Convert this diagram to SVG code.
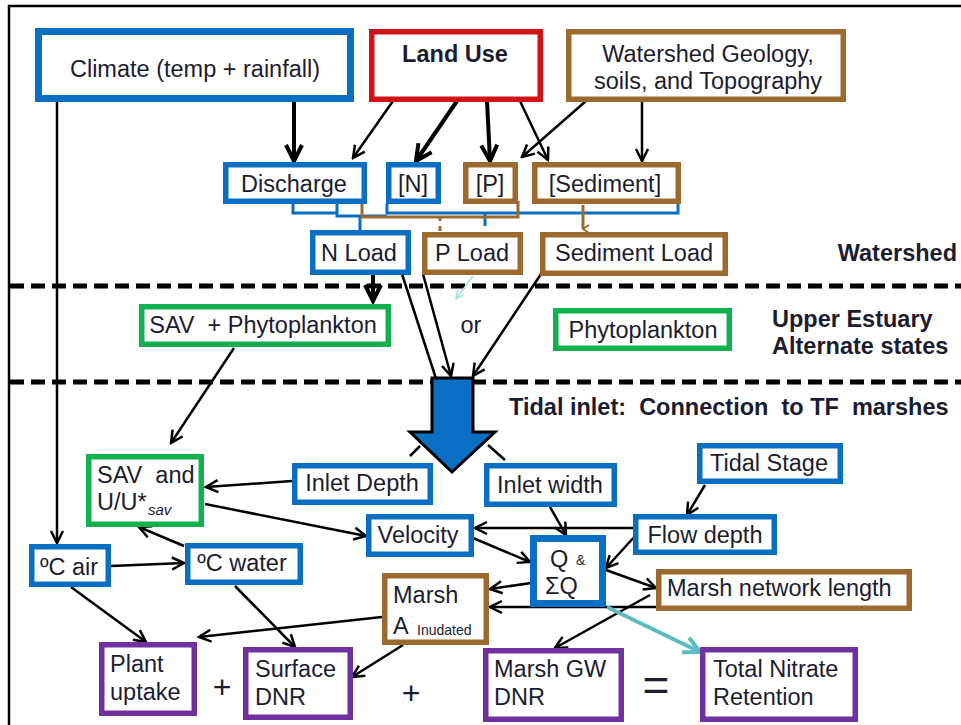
<svg xmlns="http://www.w3.org/2000/svg" width="961" height="725" viewBox="0 0 961 725">
<style>
text{font-family:"Liberation Sans",Arial,sans-serif;font-size:23.5px;fill:#1c1c30}
.b{font-weight:bold}
.m{text-anchor:middle}
.pre{white-space:pre}
.bx{fill:#fff;stroke-width:5.5}
.blue{stroke:#0A6EC2}
.red{stroke:#D01317}
.brn{stroke:#9C6A2E}
.grn{stroke:#12B04E}
.pur{stroke:#7030A0}
.ln{fill:none;stroke:#000;stroke-width:2.5;marker-end:url(#a)}
.tk{fill:none;stroke:#000;stroke-width:4;marker-end:url(#at)}
.dash{stroke:#000;stroke-width:5;stroke-dasharray:14 7}
</style>
<defs>
<marker id="a" viewBox="0 0 16 16" markerWidth="16" markerHeight="16" refX="14" refY="8" orient="auto" markerUnits="userSpaceOnUse"><path d="M2,2 L14,8 L2,14" fill="none" stroke="#000" stroke-width="2.5"/></marker>
<marker id="at" viewBox="0 0 22 22" markerWidth="22" markerHeight="22" refX="19" refY="11" orient="auto" markerUnits="userSpaceOnUse"><path d="M3,3 L19,11 L3,19" fill="none" stroke="#000" stroke-width="4"/></marker>
<marker id="ateal" viewBox="0 0 22 22" markerWidth="22" markerHeight="22" refX="19" refY="11" orient="auto" markerUnits="userSpaceOnUse"><path d="M3,3 L19,11 L3,19" fill="none" stroke="#5BBCC0" stroke-width="4"/></marker>
<marker id="afaint" viewBox="0 0 10 10" markerWidth="10" markerHeight="10" refX="9" refY="5" orient="auto" markerUnits="userSpaceOnUse"><path d="M1,1 L9,5 L1,9" fill="none" stroke="#A9DFE3" stroke-width="1.5"/></marker>
<marker id="abr" viewBox="0 0 10 10" markerWidth="10" markerHeight="10" refX="5" refY="9" orient="auto" markerUnits="userSpaceOnUse"><path d="M1,3 L5,9 L9,3" fill="none" stroke="#9C6A2E" stroke-width="2"/></marker>
</defs>
<rect width="961" height="725" fill="#fff"/>
<rect x="9" y="6" width="1000" height="800" fill="none" stroke="#000" stroke-width="2.5"/>

<g id="separators">
<line class="dash" x1="10" y1="286" x2="961" y2="286"/>
<line class="dash" x1="10" y1="382" x2="961" y2="382"/>
</g>

<g id="connectors">
<path class="tk" d="M294,102 L294,161"/>
<path class="tk" d="M457,101 L416,161"/>
<path class="tk" d="M487,101 L490,161"/>
<path class="tk" d="M373,275 L373,301"/>
<path class="ln" d="M393,101 L353,158"/>
<path class="ln" d="M520,101 L548,160"/>
<path class="ln" d="M586,101 L522,157"/>
<path class="ln" d="M642,101 L642,161"/>
<path d="M293,203 V213 H337 M337,203 V216 H387 M360,216 V230" fill="none" stroke="#0A6EC2" stroke-width="3"/>
<path d="M387,203 V213 H678 V203 M485,213 V226" fill="none" stroke="#0A6EC2" stroke-width="3"/>
<path d="M362,201 V217 H518 V201 M440,217 V221 M440,226 V231" fill="none" stroke="#9C6A2E" stroke-width="3"/>
<path d="M583,205 V229" fill="none" stroke="#9C6A2E" stroke-width="3" marker-end="url(#abr)"/>
<path d="M473,276 L456,299" fill="none" stroke="#A9DFE3" stroke-width="1.5" marker-end="url(#afaint)"/>
<path class="ln" d="M402,274 L441,394"/>
<path class="ln" d="M423,274 L451,376"/>
<path class="ln" d="M541,274 L473,376"/>
<path class="ln" d="M234,348 L171,443"/>
<path class="ln" d="M57,102 L57,543"/>
<path class="ln" d="M292,481 L206,487"/>
<path class="ln" d="M205,504 L366,536"/>
<path class="ln" d="M184,546 L139,527"/>
<path class="ln" d="M111,566 L184,563"/>
<path class="ln" d="M71,587 L146,642"/>
<path class="ln" d="M235,586 L295,647"/>
<path class="ln" d="M382,617 L199,637"/>
<path class="ln" d="M403,645 L352,677"/>
<path class="ln" d="M633,528 L475,528"/>
<path class="ln" d="M550,507 L566,535"/>
<path class="ln" d="M473,538 L530,562"/>
<path class="ln" d="M636,535 L606,568"/>
<path class="ln" d="M531,583 L490,589"/>
<path class="ln" d="M656,607 L490,607"/>
<path class="ln" d="M606,570 L656,588"/>
<path class="ln" d="M650,595 L555,648"/>
<path class="ln" d="M705,485 L687,515"/>
<path d="M420,446 L410,456 M488,445 L505,460" fill="none" stroke="#000" stroke-width="2.5"/>
<path d="M607,607 L700,652" fill="none" stroke="#5BBCC0" stroke-width="4" marker-end="url(#ateal)"/>
</g>

<g id="inlet-arrow">
<polygon points="432,378 473,378 473,432 495,432 452,472 410,432 432,432" fill="#0A6EC2" stroke="#000" stroke-width="3" stroke-linejoin="miter"/>
</g>

<g id="climate"><rect class="bx blue" x="38.5" y="31.5" width="312" height="67" style="stroke-width:7"/><text class="m" x="195" y="77">Climate (temp + rainfall)</text></g>
<g id="land-use"><rect class="bx red" x="371.75" y="31.75" width="168.5" height="67.5"/><text class="m b" x="455" y="62">Land Use</text></g>
<g id="geology"><rect class="bx brn" x="568.75" y="31.75" width="274.5" height="67.5"/><text class="m" x="708" y="62">Watershed Geology,</text><text class="m" x="708" y="89">soils, and Topography</text></g>

<g id="discharge"><rect class="bx blue" x="225.75" y="164.75" width="138.5" height="36.5"/><text class="m" x="294" y="192">Discharge</text></g>
<g id="n-conc"><rect class="bx blue" x="388.75" y="164.75" width="49.5" height="36.5"/><text class="m" x="413" y="192">[N]</text></g>
<g id="p-conc"><rect class="bx brn" x="465.75" y="164.75" width="49.5" height="36.5"/><text class="m" x="490" y="192">[P]</text></g>
<g id="sed-conc"><rect class="bx brn" x="534.75" y="164.75" width="143.5" height="36.5"/><text class="m" x="605" y="192">[Sediment]</text></g>

<g id="n-load"><rect class="bx blue" x="312.75" y="232.75" width="95.5" height="39.5"/><text class="m" x="359" y="261">N Load</text></g>
<g id="p-load"><rect class="bx brn" x="424.75" y="234.75" width="95.5" height="37.5"/><text class="m" x="472" y="261">P Load</text></g>
<g id="sed-load"><rect class="bx brn" x="542.75" y="234.75" width="182.5" height="38.5"/><text class="m" x="634" y="261">Sediment Load</text></g>
<g id="lbl-watershed"><text class="b" x="957" y="261" text-anchor="end">Watershed</text></g>

<g id="sav-phyto"><rect class="bx grn" x="141.75" y="306.75" width="246.5" height="37.5"/><text class="m pre" x="263" y="333" xml:space="preserve">SAV  + Phytoplankton</text></g>
<g id="or"><text class="m" x="471" y="333">or</text></g>
<g id="phyto"><rect class="bx grn" x="555.75" y="310.75" width="173.5" height="37.5"/><text class="m" x="643" y="338">Phytoplankton</text></g>
<g id="lbl-upper"><text class="b" x="772" y="327">Upper Estuary</text><text class="b" x="772" y="354">Alternate states</text></g>

<g id="lbl-tidal"><text class="b pre" x="509" y="415" xml:space="preserve">Tidal inlet:  Connection  to TF  marshes</text></g>

<g id="sav-u"><rect class="bx grn" x="88.75" y="456.75" width="112.5" height="67.5"/><text class="pre" x="97" y="483" xml:space="preserve">SAV  and</text><text x="97" y="510">U/U*</text><text x="148" y="515" style="font-size:15px;font-style:italic">sav</text></g>
<g id="inlet-depth"><rect class="bx blue" x="294.75" y="465.75" width="135.5" height="36.5"/><text class="m" x="362" y="491">Inlet Depth</text></g>
<g id="inlet-width"><rect class="bx blue" x="486.75" y="465.75" width="127.5" height="38.5"/><text class="m" x="550" y="493">Inlet width</text></g>
<g id="tidal-stage"><rect class="bx blue" x="699.75" y="445.75" width="140.5" height="35.5"/><text class="m" x="769" y="471">Tidal Stage</text></g>
<g id="velocity"><rect class="bx blue" x="368.75" y="516.75" width="102.5" height="37.5"/><text class="m" x="418" y="543">Velocity</text></g>
<g id="flow-depth"><rect class="bx blue" x="635.75" y="516.75" width="138.5" height="35.5"/><text class="m" x="705" y="543">Flow depth</text></g>
<g id="q"><rect class="bx blue" x="533.5" y="538.5" width="69" height="65" style="stroke-width:7"/><text x="550" y="567">Q</text><text x="576" y="565" style="font-size:14px">&amp;</text><text x="545" y="594">ΣQ</text></g>
<g id="marsh-a"><rect class="bx brn" x="384.75" y="575.75" width="101.5" height="66.5"/><text x="393" y="603">Marsh</text><text x="393" y="634">A</text><text x="417" y="635" style="font-size:14px">Inudated</text></g>
<g id="marsh-net"><rect class="bx brn" x="658.75" y="571.75" width="250.5" height="36.5"/><text x="667" y="596">Marsh network length</text></g>
<g id="c-air"><rect class="bx blue" x="31.75" y="546.75" width="76.5" height="37.5"/><text class="m" x="69" y="575">ºC air</text></g>
<g id="c-water"><rect class="bx blue" x="187.75" y="545.75" width="112.5" height="36.5"/><text class="m" x="242" y="571">ºC water</text></g>

<g id="plant"><rect class="bx pur" x="101.75" y="644.75" width="92.5" height="68.5"/><text x="110" y="672">Plant</text><text x="110" y="700">uptake</text></g>
<g id="plus1"><text class="m" x="222" y="698" style="font-size:32px">+</text></g>
<g id="surface"><rect class="bx pur" x="245.75" y="649.75" width="104.5" height="67.5"/><text x="255" y="677">Surface</text><text x="255" y="705">DNR</text></g>
<g id="plus2"><text class="m" x="411" y="704" style="font-size:32px">+</text></g>
<g id="gw"><rect class="bx pur" x="485.75" y="650.75" width="135.5" height="68.5"/><text x="494" y="677">Marsh GW</text><text x="494" y="705">DNR</text></g>
<g id="equals"><text class="m" x="656" y="701" style="font-size:46px">=</text></g>
<g id="total"><rect class="bx pur" x="702.75" y="649.75" width="152.5" height="69.5"/><text x="713" y="677">Total Nitrate</text><text x="713" y="705">Retention</text></g>
</svg>
